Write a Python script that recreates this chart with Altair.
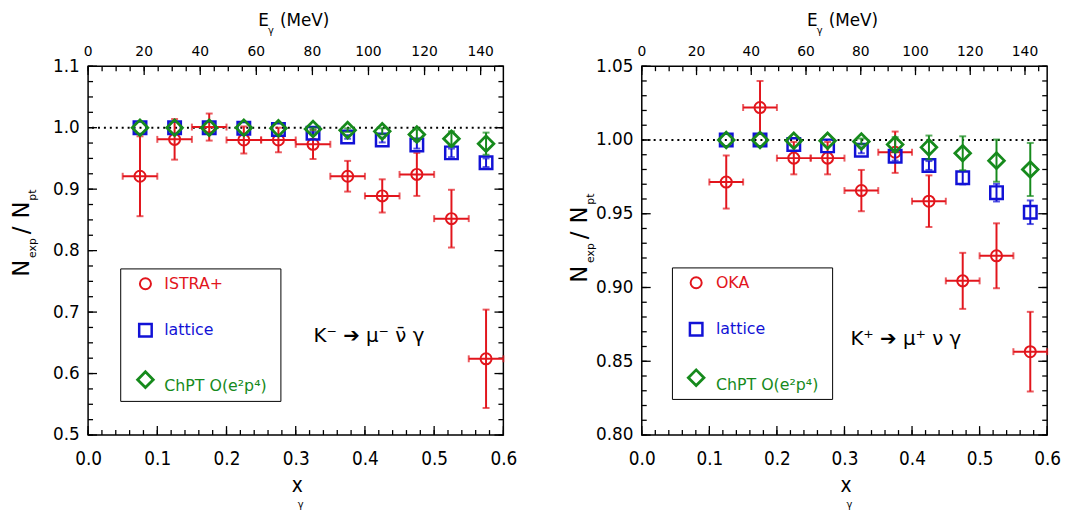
import altair as alt
import pandas as pd

# E_gamma (MeV) = x_gamma * m_K / 2
M_HALF = 246.84

# ---------------- left panel : K- -> mu- nubar gamma (ISTRA+) ----------------
x_left = [0.075, 0.125, 0.175, 0.225, 0.275, 0.325, 0.375, 0.425, 0.475, 0.525, 0.575]
istra_y = [0.921, 0.981, 1.001, 0.980, 0.980, 0.973, 0.921, 0.889, 0.924, 0.852, 0.624]
istra_err = [0.065, 0.033, 0.022, 0.022, 0.020, 0.024, 0.025, 0.027, 0.035, 0.047, 0.080]
latt_l_y = [1.000, 1.000, 1.000, 0.999, 0.997, 0.991, 0.985, 0.980, 0.972, 0.959, 0.943]
latt_l_err = [0, 0, 0, 0, 0, 0.002, 0.003, 0.004, 0.006, 0.007, 0.007]
chpt_l_y = [1.000, 1.000, 1.000, 1.000, 0.999, 0.998, 0.996, 0.994, 0.989, 0.982, 0.974]
chpt_l_err = [0, 0, 0, 0, 0, 0.002, 0.003, 0.005, 0.008, 0.012, 0.018]

# ---------------- right panel : K+ -> mu+ nu gamma (OKA) ----------------
x_right = [0.125, 0.175, 0.225, 0.275, 0.325, 0.375, 0.425, 0.475, 0.525, 0.575]
oka_y = [0.9715, 1.022, 0.9877, 0.9877, 0.9657, 0.9917, 0.9585, 0.9045, 0.9215, 0.8565]
oka_err = [0.018, 0.018, 0.011, 0.011, 0.014, 0.014, 0.0175, 0.019, 0.022, 0.027]
latt_r_y = [1.000, 1.000, 0.997, 0.996, 0.993, 0.989, 0.9827, 0.9744, 0.9643, 0.951]
latt_r_err = [0, 0, 0, 0, 0.002, 0.003, 0.003, 0.0045, 0.006, 0.008]
chpt_r_y = [1.000, 1.000, 0.9995, 0.9995, 0.999, 0.9969, 0.995, 0.991, 0.986, 0.980]
chpt_r_err = [0, 0, 0, 0, 0.002, 0.005, 0.008, 0.0115, 0.0143, 0.018]

x_bin_half = 0.025

# ---------------- axis ticks ----------------
x_major = [0.0, 0.1, 0.2, 0.3, 0.4, 0.5, 0.6]
x_minor = [round(0.02 * i, 2) for i in range(0, 31)]
e_major = [0, 20, 40, 60, 80, 100, 120, 140]
e_minor = list(range(0, 150, 5))
yl_major = [0.5, 0.6, 0.7, 0.8, 0.9, 1.0, 1.1]
yl_minor = [round(0.5 + 0.025 * i, 3) for i in range(0, 25)]
yr_major = [0.80, 0.85, 0.90, 0.95, 1.00, 1.05]
yr_minor = [round(0.80 + 0.01 * i, 2) for i in range(0, 26)]

RED = "#e2151c"
BLUE = "#1212d6"
GREEN = "#168a1c"
FONT = "DejaVu Sans"
COND = "DejaVu Sans Condensed, Liberation Sans Narrow, DejaVu Sans"

ONE = pd.DataFrame({"k": [0]})


def panel(W, H, ydom, ymaj, ymin, yfmt, xs, red, blue, green, labels, ann, g):
    xsc = alt.Scale(domain=[0, 0.6], nice=False, zero=False)
    ysc = alt.Scale(domain=ydom, nice=False, zero=False)
    xax = alt.Axis(values=x_major, format=".1f", ticks=False, tickSize=0, domain=False,
                   grid=False, labelFont=COND, labelFontSize=19, labelPadding=15,
                   labelColor="black", labelFlush=False, labelOverlap=False, title=None)
    yax = alt.Axis(values=ymaj, format=yfmt, ticks=False, tickSize=0, domain=False,
                   grid=False, labelFont=FONT, labelFontSize=17, labelPadding=9,
                   labelColor="black", labelFlush=False, labelOverlap=False, title=None)

    def X(f):
        return alt.X(f, type="quantitative", scale=xsc, axis=xax)

    def Y(f):
        return alt.Y(f, type="quantitative", scale=ysc, axis=yax)

    layers = []
    # dotted reference line at 1
    layers.append(alt.Chart(pd.DataFrame({"r": [1.0]})).mark_rule(
        color="black", strokeWidth=2, strokeDash=[2, 4]).encode(y=Y("r")))

    # inward ticks
    def hticks(vals, ln):
        d = alt.Chart(pd.DataFrame({"t": vals}))
        return [
            d.mark_rule(color="black", strokeWidth=1.3).encode(x=X("t"), y=alt.value(H), y2=alt.value(H - ln)),
        ]

    def vticks(vals, ln):
        d = alt.Chart(pd.DataFrame({"t": vals}))
        return [
            d.mark_rule(color="black", strokeWidth=1.3).encode(y=Y("t"), x=alt.value(0), x2=alt.value(ln)),
            d.mark_rule(color="black", strokeWidth=1.3).encode(y=Y("t"), x=alt.value(W), x2=alt.value(W - ln)),
        ]

    def eticks(vals, ln):
        d = alt.Chart(pd.DataFrame({"E": vals})).transform_calculate(xe=f"datum.E / {M_HALF}")
        return [d.mark_rule(color="black", strokeWidth=1.3).encode(x=X("xe"), y=alt.value(0), y2=alt.value(ln))]

    layers += hticks(x_minor, 5) + hticks(x_major, 9)
    layers += vticks(ymin, 5) + vticks(ymaj, 9)
    layers += eticks(e_minor, 5) + eticks(e_major, 9)

    # top E_gamma labels
    layers.append(alt.Chart(pd.DataFrame({"E": e_major})).transform_calculate(
        xe=f"datum.E / {M_HALF}").mark_text(font=FONT, fontSize=14, baseline="alphabetic",
                                             align="center", color="black").encode(
        x=X("xe"), y=alt.value(-10), text=alt.Text("E:Q", format="d")))

    def series(df, color, shape, size, sw, horiz):
        out = []
        base = alt.Chart(df).transform_filter("datum.err > 0").transform_calculate(
            lo="datum.y - datum.err", hi="datum.y + datum.err")
        out.append(base.mark_rule(color=color, strokeWidth=2).encode(x=X("x"), y=Y("lo"), y2="hi"))
        out.append(base.mark_tick(color=color, orient="horizontal", size=7, thickness=2).encode(x=X("x"), y=Y("lo")))
        out.append(base.mark_tick(color=color, orient="horizontal", size=7, thickness=2).encode(x=X("x"), y=Y("hi")))
        if horiz:
            hb = alt.Chart(df).transform_calculate(xl="datum.x - datum.xe", xr="datum.x + datum.xe")
            out.append(hb.mark_rule(color=color, strokeWidth=2).encode(x=X("xl"), x2="xr", y=Y("y")))
            out.append(hb.mark_tick(color=color, orient="vertical", size=7, thickness=2).encode(x=X("xl"), y=Y("y")))
            out.append(hb.mark_tick(color=color, orient="vertical", size=7, thickness=2).encode(x=X("xr"), y=Y("y")))
        out.append(alt.Chart(df).mark_point(shape=shape, filled=False, color=color, size=size,
                                            strokeWidth=sw, opacity=1).encode(x=X("x"), y=Y("y")))
        return out

    rdf = pd.DataFrame({"x": xs, "y": red[0], "err": red[1], "xe": x_bin_half})
    bdf = pd.DataFrame({"x": xs, "y": blue[0], "err": blue[1]})
    gdf = pd.DataFrame({"x": xs, "y": green[0], "err": green[1]})
    layers += series(rdf, RED, "circle", 125, 2, True)
    layers += series(bdf, BLUE, "square", 160, 2.5, False)
    layers += series(gdf, GREEN, "diamond", 250, 2.8, False)

    # legend box
    lx0, lx1, ly0, ly1 = g["box"]
    layers.append(alt.Chart(ONE).mark_rect(fill="white", stroke="black", strokeWidth=1).encode(
        x=alt.value(lx0), x2=alt.value(lx1), y=alt.value(ly0), y2=alt.value(ly1)))
    sx, tx, sy = g["sym_x"], g["txt_x"], g["rows"]
    for (lab, col, shp, size, sw), yy in zip(
            [(labels[0], RED, "circle", 125, 2), (labels[1], BLUE, "square", 160, 2.5),
             (labels[2], GREEN, "diamond", 250, 2.8)], sy):
        layers.append(alt.Chart(ONE).mark_point(shape=shp, filled=False, color=col, size=size,
                                                strokeWidth=sw, opacity=1).encode(
            x=alt.value(sx), y=alt.value(yy[0])))
        layers.append(alt.Chart(ONE).mark_text(text=lab, font=FONT, fontSize=16, color=col,
                                               align="left", baseline="middle").encode(
            x=alt.value(tx), y=alt.value(yy[1])))

    # reaction annotation
    layers.append(alt.Chart(ONE).mark_text(text=ann, font=FONT, fontSize=20, color="black",
                                           align="left", baseline="middle").encode(
        x=alt.value(g["ann"][0]), y=alt.value(g["ann"][1])))

    # axis titles as text
    def txt(t, x, y, size, angle=0, align="left", font=FONT):
        kw = dict(text=t, font=font, fontSize=size, color="black", align=align, baseline="alphabetic")
        if angle:
            kw["angle"] = angle
        return alt.Chart(ONE).mark_text(**kw).encode(x=alt.value(x), y=alt.value(y))

    c = W / 2
    et = g["etop"]
    layers.append(txt("E", c - 38, et, 17))
    layers.append(txt("γ", c - 28, et + 8, 10))
    layers.append(txt("(MeV)", c - 16, et, 17))
    layers.append(txt("x", c - 4, H + 58, 21, font=COND))
    layers.append(txt("γ", c + 2, H + 74, 10))
    nb, sb = g["ytx"]
    ys = g["yty"]
    layers.append(txt("N", nb, ys[0], 23, 270))
    layers.append(txt("exp", sb, ys[1], 11, 270))
    layers.append(txt("/", nb, ys[2], 23, 270))
    layers.append(txt("N", nb, ys[3], 23, 270))
    layers.append(txt("pt", sb, ys[4], 11, 270))

    return alt.layer(*layers).properties(width=W, height=H)


left = panel(
    420, 373, [0.5, 1.1], yl_major, yl_minor, ".1f", x_left,
    (istra_y, istra_err), (latt_l_y, latt_l_err), (chpt_l_y, chpt_l_err),
    ["ISTRA+", "lattice", "ChPT O(e²p⁴)"], "K⁻ ➔ μ⁻ ν̄ γ",
    {"box": (33, 195, 205, 339), "sym_x": 58, "txt_x": 77,
     "rows": [(220, 220), (267, 267), (317, 323)], "ann": (228, 273),
     "etop": -41, "ytx": (-60, -53), "yty": [213, 194, 170, 154, 136]},
)
right = panel(
    410, 373, [0.80, 1.05], yr_major, yr_minor, ".2f", x_right,
    (oka_y, oka_err), (latt_r_y, latt_r_err), (chpt_r_y, chpt_r_err),
    ["OKA", "lattice", "ChPT O(e²p⁴)"], "K⁺ ➔ μ⁺ ν γ",
    {"box": (31, 193, 204, 337), "sym_x": 55, "txt_x": 75,
     "rows": [(219, 219), (266, 266), (315, 322)], "ann": (211, 276),
     "etop": -41, "ytx": (-55, -48), "yty": [219, 199, 175, 159, 140]},
)

chart = alt.hconcat(left, right, spacing=51).properties(
    padding={"left": 2, "top": 0, "right": 0, "bottom": 0},
    background="white",
).configure_view(stroke="black", strokeWidth=1.5)

chart.save("out.html", embed_options={"renderer": "svg", "actions": False})
